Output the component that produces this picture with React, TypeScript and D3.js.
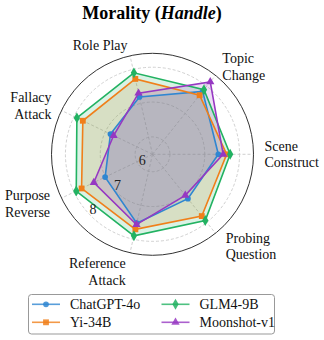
import React, { useEffect, useRef } from "react";
import * as d3 from "d3";

// axes, counter-clockwise from 3 o'clock
const categories = [
  ["Scene", "Construct"],
  ["Topic", "Change"],
  ["Role Play"],
  ["Fallacy", "Attack"],
  ["Purpose", "Reverse"],
  ["Reference", "Attack"],
  ["Probing", "Question"],
];

const models = ["ChatGPT-4o", "Yi-34B", "GLM4-9B", "Moonshot-v1"];
const chatgpt = [7.39, 7.81, 7.19, 6.84, 7.01, 7.53, 7.13];
const yi = [7.63, 7.67, 7.72, 7.72, 7.76, 7.71, 7.77];
const glm = [7.73, 7.87, 7.9, 7.91, 7.93, 7.9, 7.93];
const moonshot = [7.53, 8.16, 7.3, 6.74, 7.37, 7.57, 7.01];
const radialTicks = [6, 7, 8];

const colors = ["#2f86d1", "#f07f1a", "#22b262", "#9638c2"];
const symbols = [d3.symbolCircle, d3.symbolSquare, d3.symbolDiamond, d3.symbolTriangle];
const symSizes = [26, 34, 34, 30];

export default function App() {
  const ref = useRef<SVGSVGElement>(null);

  useEffect(() => {
    const svg = d3.select(ref.current);
    svg.selectAll("*").remove();

    const width = 324,
      height = 340,
      cx = 152.5,
      cy = 154.3,
      outer = 101;
    const font = "'Liberation Serif', 'Times New Roman', serif";

    svg.attr("width", width).attr("height", height);

    const r = d3.scaleLinear().domain([5.5, 8.4]).range([0, outer]);
    const n = categories.length;
    const ang = (i: number) => (i * 2 * Math.PI) / n; // math angle
    const px = (i: number, rr: number) => cx + rr * Math.cos(ang(i));
    const py = (i: number, rr: number) => cy - rr * Math.sin(ang(i));

    // title
    const title = svg
      .append("text")
      .attr("x", width / 2 - 10)
      .attr("y", 18.5)
      .attr("text-anchor", "middle")
      .attr("font-family", font)
      .attr("font-size", 18)
      .attr("font-weight", "bold");
    title.append("tspan").text("Morality (");
    title.append("tspan").attr("font-style", "italic").text("Handle");
    title.append("tspan").text(")");

    const g = svg.append("g");

    // grid circles
    g.selectAll(".grid")
      .data(radialTicks)
      .enter()
      .append("circle")
      .attr("cx", cx)
      .attr("cy", cy)
      .attr("r", (d) => r(d))
      .attr("fill", "none")
      .attr("stroke", "#c4c4c4")
      .attr("stroke-width", 0.8)
      .attr("stroke-dasharray", "3,2");

    // spokes
    g.selectAll(".spoke")
      .data(d3.range(n))
      .enter()
      .append("line")
      .attr("x1", cx)
      .attr("y1", cy)
      .attr("x2", (i) => px(i, outer))
      .attr("y2", (i) => py(i, outer))
      .attr("stroke", "#c4c4c4")
      .attr("stroke-width", 0.8)
      .attr("stroke-dasharray", "3,2");

    // outer ring
    g.append("circle")
      .attr("cx", cx)
      .attr("cy", cy)
      .attr("r", outer)
      .attr("fill", "none")
      .attr("stroke", "#333")
      .attr("stroke-width", 1);

    const series = [chatgpt, yi, glm, moonshot];
    const radial = d3
      .lineRadial<number>()
      .angle((_, i) => Math.PI / 2 - ang(i))
      .radius((d) => r(d))
      .curve(d3.curveLinearClosed);

    const plot = g.append("g").attr("transform", `translate(${cx},${cy})`);

    series.forEach((vals, k) => {
      plot
        .append("path")
        .attr("d", radial(vals))
        .attr("fill", colors[k])
        .attr("fill-opacity", 0.17)
        .attr("stroke", "none");
    });

    series.forEach((vals, k) => {
      plot
        .append("path")
        .attr("d", radial(vals))
        .attr("fill", "none")
        .attr("stroke", colors[k])
        .attr("stroke-width", 1.6);
      plot
        .selectAll(`.m${k}`)
        .data(vals)
        .enter()
        .append("path")
        .attr("transform", (d, i) => `translate(${px(i, r(d)) - cx},${py(i, r(d)) - cy})`)
        .attr("d", d3.symbol().type(symbols[k]).size(symSizes[k])())
        .attr("fill", colors[k]);
    });

    // radial tick labels
    const tickAng = (225 * Math.PI) / 180;
    g.selectAll(".rt")
      .data(radialTicks)
      .enter()
      .append("text")
      .attr("x", (d) => cx + r(d) * Math.cos(tickAng) + 2)
      .attr("y", (d) => cy - r(d) * Math.sin(tickAng) - 6)
      .attr("text-anchor", "middle")
      .attr("dominant-baseline", "central")
      .attr("font-family", font)
      .attr("font-size", 14)
      .attr("fill", "#222")
      .text((d) => d);

    // category labels
    const lh = 16.5;
    categories.forEach((lines, i) => {
      const c = Math.cos(ang(i));
      const s = Math.sin(ang(i));
      const lr = 112 + 9 * Math.pow(Math.max(0, -s), 2);
      const x = cx + lr * c;
      const y = cy - lr * s;
      const anchor = c > 0.05 ? "start" : c < -0.05 ? "end" : "middle";
      const t = g
        .append("text")
        .attr("text-anchor", anchor)
        .attr("font-family", font)
        .attr("font-size", 14)
        .attr("fill", "#111");
      const y0 = y - ((lines.length - 1) * lh) / 2 + 4.7;
      lines.forEach((ln, j) => {
        t.append("tspan").attr("x", x).attr("y", y0 + j * lh).text(ln);
      });
    });

    // legend
    const lg = svg.append("g");
    lg.append("rect")
      .attr("x", 28.5)
      .attr("y", 294.5)
      .attr("width", 246)
      .attr("height", 39.5)
      .attr("rx", 3)
      .attr("fill", "#fff")
      .attr("stroke", "#999")
      .attr("stroke-width", 1);

    models.forEach((m, k) => {
      const col = Math.floor(k / 2);
      const row = k % 2;
      const x0 = col === 0 ? 32 : 161.5;
      const y = 304.3 + row * 18;
      lg.append("line")
        .attr("x1", x0)
        .attr("x2", x0 + 28)
        .attr("y1", y)
        .attr("y2", y)
        .attr("stroke", colors[k])
        .attr("stroke-opacity", 0.8)
        .attr("stroke-width", 1.6);
      lg.append("path")
        .attr("transform", `translate(${x0 + 14},${y})`)
        .attr("d", d3.symbol().type(symbols[k]).size(symSizes[k])())
        .attr("fill", colors[k])
        .attr("fill-opacity", 0.85);
      lg.append("text")
        .attr("x", x0 + 38)
        .attr("y", y + 4.8)
        .attr("font-family", font)
        .attr("font-size", 14)
        .attr("fill", "#111")
        .text(m);
    });
  }, []);

  return (
    <svg ref={ref} style={{ position: "absolute", left: 0, top: 0 }}></svg>
  );
}
